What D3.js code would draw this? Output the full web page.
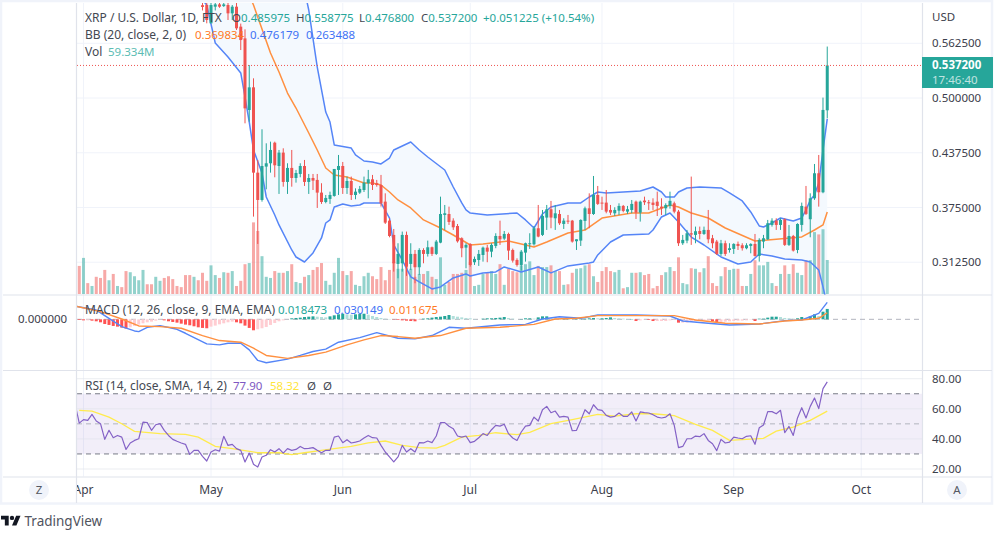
<!DOCTYPE html>
<html><head><meta charset="utf-8">
<script src="https://cdn.jsdelivr.net/npm/d3@7"></script>
<style>html,body{margin:0;padding:0;background:#fff}svg{display:block}text{font-family:"Noto Sans",sans-serif;font-size:11.5px}</style>
</head><body><svg id="c" width="1002" height="539"></svg>
<script>
// ---------- Data: day 0 is 2022-03-31 ----------
const months=["Apr","May","Jun","Jul","Aug","Sep","Oct"];
const monthDays=[1,31,62,92,123,154,184];
const priceTicks=[0.5625,0.5,0.4375,0.375,0.3125];
const rsiTicks=[80,60,40,20];
const rsiLevels=[70,50,30];
const lastClose=0.5372;

const volumeM=[49,63,19,14,30,28,42,24,35,14,12,40,38,31,24,42,17,17,30,23,28,31,26,14,12,33,33,30,24,37,23,50,33,28,38,37,40,14,23,52,54,125,110,66,30,28,40,37,37,40,52,21,19,30,33,42,47,54,23,16,37,63,40,33,40,16,14,31,37,
31,26,47,24,42,56,44,44,52,44,30,35,35,40,30,26,64,16,21,35,35,37,42,56,14,16,35,38,40,35,52,16,44,40,38,50,52,57,33,49,47,47,50,40,40,16,17,37,44,45,50,52,31,21,40,47,40,38,42,10,12,37,37,38,33,35,10,14,33,38,
47,40,64,19,17,45,44,38,45,66,19,14,31,47,42,44,44,14,14,35,59,50,50,56,19,14,35,50,35,52,37,33,59,59,108,104,113,59.334];
const earlyVolumeDirection="rgrgrrrgrgrrggggrrggrrrrrrrgr"; // days 0-28; candle is above the pane

const candleStart=29;
const opens=[.606,.6062,.5853,.6043,.6069,.605,.6062,.5967,.6043,.5815,
.5681,.4863,.5122,.4148,.3836,.4217,.4255,.449,.4224,.4377,
.4042,.4202,.4087,.4133,.4224,.4042,.4087,.4065,.392,.3813,
.3848,.3882,.4179,.4224,.3973,.4053,.3893,.392,.395,.4027,
.4072,.4027,.4007,.3817,.36,.3437,.3106,.3113,.3437,.3106,
.322,.3068,.3265,.322,.3296,.322,.3349,.3665,.3676,.36,
.3539,.3399,.3292,.3334,.3125,.3151,.3208,.3292,.3246,.3311,
.3425,.3395,.3448,.3265,.3151,.3094,.3235,.3334,.333,.3513,
.3437,.3635,.373,.3627,.3676,.3562,.36,.36,.3365,.3372,
.3597,.3741,.3676,.3893,.3806,.3806,.3722,.3684,.3714,.3768,
.3703,.3722,.3817,.3692,.3829,.381,.3806,.3817,.376,.3741,
.3768,.3798,.3703,.3342,.3372,.3456,.3437,.3482,.3448,.3494,
.3399,.3361,.322,.3342,.3265,.3277,.3334,.3319,.3285,.3311,
.3334,.3197,.3361,.3387,.3551,.36,.3551,.3616,.3323,.3425,
.3265,.3551,.376,.3616,.3855,.4141,.3924,.485975];
const highs=[.609,.615,.62,.62,.62,.615,.615,.6062,.61,.585,
.5784,.5377,.5225,.4293,.4643,.4483,.4502,.4502,.4407,.4426,
.4255,.4407,.4179,.4255,.4293,.4133,.4133,.4133,.4027,.3893,
.3931,.419,.435,.427,.4103,.4103,.3969,.3996,.4103,.4179,
.4122,.4065,.4122,.3912,.3627,.3505,.3342,.3475,.3475,.3342,
.3265,.3285,.3285,.3372,.3304,.338,.3874,.3779,.376,.3627,
.3562,.341,.3342,.3342,.319,.3265,.3304,.3323,.3342,.3456,
.36,.3482,.3463,.3281,.317,.3265,.3349,.3456,.3539,.3779,
.3722,.3779,.3825,.3779,.3722,.3627,.3665,.3608,.3387,.3615,
.376,.3912,.411,.3996,.3874,.395,.3779,.3753,.3798,.3779,
.3768,.3836,.3829,.3829,.3874,.3836,.3855,.3931,.3855,.3798,
.3931,.3817,.3722,.3437,.3494,.4103,.3532,.3532,.3532,.3722,
.3437,.338,.338,.3372,.3342,.3342,.3361,.3342,.3342,.3342,
.3448,.3399,.3437,.3608,.3627,.3627,.3627,.3627,.3551,.3437,
.357,.3806,.3996,.3912,.4247,.435,.5005,.558775];
const lows=[.6,.5853,.5853,.6,.603,.604,.5891,.5891,.5777,.5548,
.4711,.473,.3646,.3334,.3817,.3958,.4148,.4095,.3905,.3988,
.3905,.3988,.4034,.4095,.3996,.3905,.395,.3745,.3791,.3798,
.3791,.3874,.3893,.3905,.3905,.3836,.3844,.3905,.3927,.3855,
.395,.3988,.376,.3562,.341,.3018,.2942,.3018,.2969,.3037,
.2885,.298,.3113,.319,.3197,.3208,.3342,.3494,.3551,.3494,
.3349,.3182,.3056,.3075,.3094,.3083,.3132,.3125,.3182,.3285,
.3323,.338,.3151,.3121,.3075,.3029,.3132,.3277,.3315,.341,
.3425,.3494,.3513,.3494,.3551,.3505,.3562,.3349,.3265,.3311,
.3494,.3513,.3665,.3779,.3722,.3684,.3665,.3654,.3665,.3695,
.3676,.3684,.3619,.3589,.3779,.3722,.3722,.3653,.3665,.3665,
.3737,.3684,.3311,.3323,.3342,.3323,.3342,.3387,.3437,.3342,
.3285,.3208,.3197,.3197,.3235,.322,.3265,.3258,.3273,.3227,
.319,.3132,.3285,.338,.3532,.3494,.3494,.3311,.3311,.3247,
.3228,.3475,.3665,.341,.3837,.376,.3913,.4768];
const closes=[.604,.5891,.6062,.6069,.6043,.6069,.5967,.6043,.5796,.5662,
.4882,.5122,.4148,.3836,.4224,.4255,.4407,.4232,.4377,.4042,
.4202,.4087,.4144,.4224,.4042,.4087,.4057,.392,.3813,.3859,
.3893,.419,.4224,.3973,.4053,.3893,.3931,.3962,.4034,.4072,
.4007,.4007,.3798,.3577,.3425,.3113,.322,.3437,.3075,.322,
.3068,.3265,.322,.3296,.322,.3361,.3676,.3684,.3585,.3524,
.3364,.3285,.3323,.3094,.3163,.322,.3292,.3246,.3323,.3425,
.3387,.3448,.3258,.3144,.3094,.3246,.3342,.3342,.3513,.3418,
.3654,.373,.3635,.3684,.357,.36,.3589,.3361,.3387,.3608,
.3741,.3676,.3893,.3791,.3798,.3703,.3692,.3722,.3768,.3711,
.373,.3791,.3692,.3817,.381,.3798,.3779,.3768,.3741,.3779,
.3826,.3703,.3342,.338,.3456,.3441,.3479,.3448,.3494,.3387,
.3342,.322,.3342,.322,.3285,.3334,.3311,.3285,.3319,.3334,
.3197,.338,.3399,.357,.36,.3551,.3608,.3323,.3425,.3258,
.3562,.3768,.3677,.3855,.4141,.3924,.4864,.5372];

const bbUpperDays=[29,45,53,54,56,58,59,60,64,65,67,69,71,73,74,76,78,79,80,82,86,88,90,91,92,96,103,105,107,109,111,115,118,120,122,124,132,135,137,138,140,141,143,146,151,153,156,158,160,161,163,165,168,170,171,172,173,174,175,176];
const bbUpper=[.9,.75,.6233,.6005,.5354,.484,.4726,.4464,.4429,.435,.4281,.427,.4247,.4315,.4407,.4452,.4498,.4452,.4407,.4327,.4178,.3984,.3802,.3722,.3687,.3665,.3687,.3608,.3516,.3676,.3756,.3802,.3802,.387,.3927,.3916,.3939,.3984,.3927,.387,.387,.3927,.3973,.3984,.3973,.3916,.3825,.3699,.3539,.3528,.3573,.363,.3596,.363,.3722,.3836,.3893,.403,.4407,.4762];
const bbLowerDays=[29,30,32,35,38,39,40,41,43,44,46,47,50,51,53,55,57,58,59,60,62,64,66,67,69,71,73,74,76,78,80,83,85,88,91,92,95,98,100,104,108,111,115,120,121,122,125,128,134,135,137,139,141,144,147,151,155,158,160,163,166,170,172,174,175,176];
const bbLower=[.6119,.6062,.5628,.5468,.5286,.5012,.4726,.4407,.4144,.387,.3665,.3551,.3265,.3185,.3128,.3231,.3402,.3573,.3608,.3756,.379,.3767,.3779,.3802,.3802,.3802,.363,.3322,.3151,.2957,.29,.282,.2843,.2946,.2991,.2968,.3003,.3014,.3071,.3014,.3071,.3003,.3083,.3117,.3128,.3208,.3356,.3436,.3448,.3493,.3642,.3687,.3585,.3413,.3322,.3185,.3105,.3128,.3219,.3197,.3162,.3151,.3128,.3037,.2843,.2635];
const bbMidDays=[40,41,45,47,49,51,54,56,58,60,63,67,69,71,73,75,78,81,85,88,92,95,101,107,110,115,119,123,130,134,139,141,144,148,152,159,162,170,173,175,176];
const bbMid=[.6176,.6062,.5514,.5297,.5057,.4886,.4601,.4407,.4201,.4121,.4098,.403,.403,.4007,.3927,.3836,.3745,.3608,.3516,.3436,.3322,.3334,.3368,.3299,.3356,.3459,.3493,.363,.3687,.3687,.3779,.3756,.3687,.363,.3516,.3368,.3379,.3414,.3493,.3551,.3698];

// MACD pane values are in thousandths
const histogram=[-1.2,-1.8,-1.8,-2.4,-3.5,-5.3,-8.3,-10,-11.8,-13,-14.8,-16.5,-14.2,-11.8,-9.4,-7.1,-5.3,-4.1,-2.4,-.6,-1.8,-3.5,-4.7,-5.9,-7.7,-9.4,-10.6,-12.4,-14.2,-15.3,-15.9,-13,-11.2,-8.9,-7.1,-5.3,-4.1,-5.3,-7.1,-11.2,-15.3,-19.5,-17.7,-15.9,-13.6,-10,-6.5,-3.5,-1.8,0,1.8,2.4,3,4.1,4.7,5.3,4.7,4.1,3.5,5.3,7.1,8.9,10,8.9,8.3,8.9,9.4,10,8.3,5.9,4.1,2.4,1.2,.6,-.6,-1.2,-1.8,-2.4,-3,-3.5,-1.2,1.2,1.8,3,4.1,4.7,5.9,7.7,5.9,4.7,3.5,2.4,1.8,.6,0,1.2,1.8,1.8,2.4,3,4.1,
2.4,1.2,0,.6,1.8,1.8,1.2,3.5,5.3,5.3,1.8,1.2,.6,.6,.6,0,.6,.6,1.2,1.8,2.4,1.8,1.8,2.4,3.5,2.4,1.8,1.2,.6,.6,
-3,-1.8,-.6,-1.2,-3,-3,-3,-3,-1.8,-1.2,-5.9,-5.9,-5.9,-4.1,-3,-2.4,-1.8,-1.8,-3.5,-4.7,-4.7,-4.1,-3.5,-3,-2.4,-2.4,-1.8,-.6,-3,1.2,1.2,3,4.7,4.7,4.1,2.4,1.8,1.2,1.8,4.1,2.4,5.3,8.9,5.9,13.6,18.5];
const macdDays=[-1,4,7,10,13,14,16,19,23,25,30,33,35,38,40,42,44,49,52,55,58,61,66,70,75,79,83,87,91,99,105,109,113,118,122,131,139,142,148,153,160,166,170,174,176];
const macdLine=[23.6,16.5,1.8,-13,-20.7,-21.8,-14.2,-11.2,-17.7,-24.8,-43.7,-45.4,-42.5,-42.5,-54.3,-73.2,-77.3,-70.8,-64.3,-57.2,-53.1,-40.7,-32.5,-23.6,-33.6,-34.8,-28.9,-14.2,-15.9,-10,-8.9,.6,4.7,1.8,7.7,7.7,5.9,-3,-7.1,-10,-8.3,-2.4,-1.2,10.6,30.1];
const signalDays=[-1,5,10,14,19,24,29,33,38,41,44,49,54,58,63,67,71,75,79,85,91,99,107,112,117,122,130,140,145,152,160,166,170,174,176];
const signalLine=[23.6,13.6,.6,-11.8,-13,-15.9,-28.9,-37.8,-40.7,-51.3,-64.3,-69.6,-64.3,-58.4,-45.4,-36.6,-28.9,-30.7,-33.6,-28.9,-15.9,-14.2,-8.9,.6,1.8,6.5,6.5,6.5,-1.2,-7.1,-8.3,-3,-1.2,1.8,11.7];

// RSI: first value is day -1
const rsi=[63.4,50.5,52.8,52.3,56.3,51.9,50.1,39.7,45.7,40.8,42.3,41.2,33,37.3,39,40.1,51.2,50.8,45.7,49.4,50.1,45.7,42.3,39.7,38.4,37.3,36.4,29.7,32.4,32.4,28.4,25.3,31.3,32.8,31.9,41.7,35.7,36.4,33.5,32.4,24.7,30.6,23.1,21.3,28,29.1,32.8,31.3,33.5,30.6,33.5,32.4,33,35,33.5,33.7,34.2,32.4,30.8,32.4,32.4,41.2,41.9,37.5,39.5,37.3,37.9,38.6,40.6,42.3,40.8,40.6,35.7,31.3,28,24.7,28,35.7,31.3,33.5,31.3,37.5,37.3,38.6,37.5,41.9,50.8,50.8,48.4,46.8,41.9,41.2,41.9,37.5,38.4,40.8,43.5,42.3,46.1,49,48.5,
49.7,43.5,40.6,39,44.6,48.5,49,54.5,51.9,59.4,61.6,57.4,58.5,54.5,55,54.5,45.4,45.7,52.3,59.4,56.7,62.7,59.4,59,55.6,54.5,55,57.2,55,55,57.9,51.9,57.9,57.4,57.2,56.1,54.5,53.9,54.5,56.7,49,34.2,35,40.1,40.1,41.9,41.5,43.5,39,36.8,32.2,39.7,37.3,37.9,41.2,40.6,40.1,41.7,42.1,36.4,47.4,49.2,58.1,58.1,56.7,59,44.1,48.3,42.3,53.9,60.7,53.9,61.6,67.2,60.1,73.4,77.9];
const rsiMaDays=[0,3,7,10,13,19,25,28,32,36,39,42,47,50,53,57,60,64,68,72,76,80,84,86,90,94,98,103,106,111,116,122,126,131,135,140,145,149,153,157,161,164,168,172,176];
const rsiMa=[59,58.5,54.5,50.1,45,43.5,43,41.2,35,33.5,32.2,30.8,30.8,29.5,30.8,32.4,33.5,35,37.3,38.6,35.7,34.2,33.9,35.7,41.2,42.3,44.1,42.8,44.3,50.1,52.8,56.3,55.2,56.7,56.7,55.4,49.6,45.7,39,39.7,40.4,45.2,47.9,52.3,58.5];

// ---------- Scales ----------
const day0=new Date(Date.UTC(2022,2,31));
const D=i=>new Date(+day0+i*864e5);
const L=77,R=923;
const x=d3.scaleUtc().domain([D(-0.53),D(198.53)]).range([L,R]);
const X=i=>x(D(i));
const y=d3.scaleLinear().domain([.2751,.6085]).range([295,3]);
const yVol=d3.scaleLinear().domain([0,100]).range([294,294-57.3]);
const yM=d3.scaleLinear().domain([-90.2,43.3]).range([370,295]);
const yR=d3.scaleLinear().domain([20,80]).range([469,378.7]);

const GREEN="#26a69a",RED="#ef5350",BLUE="#5585f7",ORANGE="#ff9040",PURPLE="#7e57c2",YEL="#ffeb4d";
const GRID="#f0f3fa",SEP="#e0e3eb",TXT="#3c404c";

const svg=d3.select("#c");
const defs=svg.append("defs");
[["cm",3,295],["cd",295,370],["cr",370,476.5]].forEach(([id,a,b])=>{
 defs.append("clipPath").attr("id",id).append("rect").attr("x",L).attr("y",a).attr("width",R-L).attr("height",b-a);
});
defs.append("clipPath").attr("id","ct").append("rect").attr("x",L).attr("y",477).attr("width",R-L).attr("height",27);

// ---------- Grid ----------
const grid=svg.append("g");
monthDays.forEach(d=>grid.append("line").attr("x1",X(d)).attr("x2",X(d)).attr("y1",3).attr("y2",476.5).attr("stroke",GRID));
priceTicks.forEach(p=>grid.append("line").attr("x1",L).attr("x2",R).attr("y1",y(p)).attr("y2",y(p)).attr("stroke",GRID));

// ---------- Main pane ----------
const main=svg.append("g").attr("clip-path","url(#cm)");
const pts=(days,vals)=>days.map((d,k)=>[X(d),y(vals[k])]);
const line=d3.line();
const up=pts(bbUpperDays,bbUpper), lo=pts(bbLowerDays,bbLower);
main.append("path").attr("d",line(up.concat(lo.slice().reverse()))+"Z").attr("fill","#f4f9fe");
// volume
main.append("g").selectAll("rect").data(volumeM).join("rect")
 .attr("x",(v,i)=>X(i)-1.5).attr("width",3).attr("y",v=>yVol(v)).attr("height",v=>yVol(0)-yVol(v))
 .attr("fill",(v,i)=>{const g=i<candleStart?earlyVolumeDirection[i]==="g":closes[i-candleStart]>=opens[i-candleStart];return g?GREEN:RED}).attr("opacity",.5);
// bands
[[up,BLUE],[lo,BLUE],[pts(bbMidDays,bbMid),ORANGE]].forEach(([p,c])=>main.append("path").attr("d",line(p)).attr("fill","none").attr("stroke",c).attr("stroke-width",1.5).attr("stroke-linejoin","round"));
// candles
const cg=main.append("g").selectAll("g").data(d3.range(opens.length)).join("g");
const col=k=>closes[k]>=opens[k]?GREEN:RED;
cg.append("line").attr("x1",k=>X(k+candleStart)).attr("x2",k=>X(k+candleStart)).attr("y1",k=>y(highs[k])).attr("y2",k=>y(lows[k])).attr("stroke",col);
cg.append("rect").attr("x",k=>X(k+candleStart)-1.5).attr("width",3).attr("y",k=>y(Math.max(opens[k],closes[k]))).attr("height",k=>Math.max(1,Math.abs(y(opens[k])-y(closes[k])))).attr("fill",col);
// last price line
main.append("line").attr("x1",L).attr("x2",R).attr("y1",y(lastClose)).attr("y2",y(lastClose)).attr("stroke",RED).attr("stroke-dasharray","1 2");

// ---------- MACD pane ----------
const mp=svg.append("g").attr("clip-path","url(#cd)");
mp.append("line").attr("x1",L).attr("x2",R).attr("y1",yM(0)).attr("y2",yM(0)).attr("stroke","#b2b5be").attr("stroke-dasharray","5 4");
mp.append("g").selectAll("rect").data(histogram).join("rect")
 .attr("x",(v,i)=>X(i)-1.5).attr("width",3)
 .attr("y",v=>Math.min(yM(0),yM(v))).attr("height",v=>Math.abs(yM(v)-yM(0)))
 .attr("fill",(v,i)=>{const p=i?histogram[i-1]:0;return v>=0?(v>=p?"#26a69a":"#b2dfdb"):(v<p?"#ff5252":"#ffcdd2")});
const mline=(days,vals,c)=>mp.append("path").attr("d",line(days.map((d,k)=>[X(d),yM(vals[k])]))).attr("fill","none").attr("stroke",c).attr("stroke-width",1.4).attr("stroke-linejoin","round");
mline(macdDays,macdLine,BLUE);mline(signalDays,signalLine,ORANGE);

// ---------- RSI pane ----------
const rp=svg.append("g").attr("clip-path","url(#cr)");
rp.append("rect").attr("x",L).attr("width",R-L).attr("y",yR(70)).attr("height",yR(30)-yR(70)).attr("fill",PURPLE).attr("opacity",.1);
rsiTicks.forEach(v=>rp.append("line").attr("x1",L).attr("x2",R).attr("y1",yR(v)).attr("y2",yR(v)).attr("stroke","#e0e3eb").attr("opacity",.6));
rsiLevels.forEach(v=>rp.append("line").attr("x1",L).attr("x2",R).attr("y1",yR(v)).attr("y2",yR(v)).attr("stroke",v===50?"#b2b5be":"#787b86").attr("stroke-dasharray","5 4"));
rp.append("path").attr("d",line(rsiMaDays.map((d,k)=>[X(d),yR(rsiMa[k])]))).attr("fill","none").attr("stroke",YEL).attr("stroke-width",1.3);
rp.append("path").attr("d",line(rsi.map((v,k)=>[X(k-1),yR(v)]))).attr("fill","none").attr("stroke","#8462c6").attr("stroke-width",1.2).attr("stroke-linejoin","round");

// ---------- Frame ----------
const fr=svg.append("g").attr("fill","none");
fr.append("rect").attr("x",1).attr("y",1).attr("width",991).attr("height",502.5).attr("stroke",GRID).attr("stroke-width",2.5);
[[L-.5,3,L-.5,503],[R-.5,3,R-.5,503],[3,295,992,295],[3,370.5,992,370.5],[3,477,992,477]].forEach(s=>
 fr.append("line").attr("x1",s[0]).attr("y1",s[1]).attr("x2",s[2]).attr("y2",s[3]).attr("stroke",SEP).attr("stroke-width",1.2));

// ---------- Text ----------
const T=(g,t,px,py,c,o={})=>{const e=g.append("text").attr("x",px).attr("y",py).attr("dy",".35em").attr("fill",c).text(t);
 if(o.w)e.attr("font-weight",o.w);if(o.a)e.attr("text-anchor",o.a);if(o.op)e.attr("opacity",o.op);if(o.s)e.style("font-size",o.s+"px");return e};
const tg=svg.append("g");
T(tg,"USD",932,17,TXT);
priceTicks.forEach(p=>T(tg,p.toFixed(6),932,y(p),TXT));
rsiTicks.forEach(v=>T(tg,v.toFixed(2),932,yR(v),TXT));
T(tg,"0.000000",18,yM(0),TXT);
const tl=svg.append("g").attr("clip-path","url(#ct)");
months.forEach((m,k)=>T(tl,m,X(monthDays[k]),490,TXT,{a:"middle",s:12}));

// last price label
tg.append("rect").attr("x",922).attr("y",57).attr("width",71).attr("height",31).attr("fill",GREEN);
T(tg,lastClose.toFixed(6),932,65,"#fff",{w:"bold"});
T(tg,"17:46:40",932,79.5,"#fff",{op:.7});

// legends
const A="#444852", LB={s:12};
T(tg,"XRP / U.S. Dollar, 1D, FTX",85,18,A,LB);
[["O",232,"0.485975"],["H",296,"0.558775"],["L",359,"0.476800"],["C",421,"0.537200"]].forEach(r=>{
 const e=T(tg,r[0],r[1],18,A);
 e.append("tspan").attr("fill",GREEN).text(r[2]);
});
T(tg,"+0.051225 (+10.54%)",483,18,GREEN);
T(tg,"BB (20, close, 2, 0)",85,35,A,LB);
T(tg,"0.369834",195,35,"#ff7a1f");T(tg,"0.476179",250,35,"#3f72f5");T(tg,"0.263488",306,35,"#3f72f5");
T(tg,"Vol",85,52,A,LB);T(tg,"59.334M",108,52,"#5cbcb3");
T(tg,"MACD (12, 26, close, 9, EMA, EMA)",85,310,A,LB);
T(tg,"0.018473",278,310,GREEN);T(tg,"0.030149",334,310,"#3f72f5");T(tg,"0.011675",389,310,"#ff7a1f");
T(tg,"RSI (14, close, SMA, 14, 2)",85,386,A,LB);
T(tg,"77.90",233,386,PURPLE);T(tg,"58.32",270,386,"#ffe53b");T(tg,"Ø",307,386,A);T(tg,"Ø",323,386,A);

// corner buttons
[["Z",39],["A",957]].forEach(([t,cx])=>{tg.append("circle").attr("cx",cx).attr("cy",490).attr("r",10).attr("fill",GRID);T(tg,t,cx,489.5,"#555963",{a:"middle"})});

// TradingView mark
const logo=svg.append("g").attr("transform","translate(1,513.5) scale(.55)");
logo.append("path").attr("d","M14 22H7V11H0V4h14v18zM28 22h-8l7.5-18h8L28 22z").attr("fill","#131722");
logo.append("circle").attr("cx",20).attr("cy",8).attr("r",4).attr("fill","#131722");
T(svg,"TradingView",24.5,521,"#50535e",{s:13.5});
</script></body></html>
